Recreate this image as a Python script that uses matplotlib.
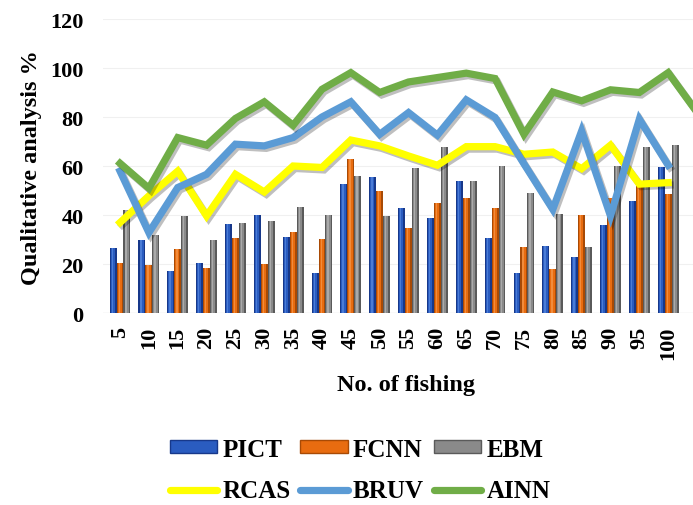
import numpy as np
import matplotlib
matplotlib.use("Agg")
import matplotlib.pyplot as plt
import matplotlib.patheffects as pe
from matplotlib.patches import Patch
from matplotlib.lines import Line2D

plt.rcParams['font.family'] = ['Liberation Serif', 'DejaVu Serif']
plt.rcParams['font.weight'] = 'bold'

# number of fishing runs
fishing = [5, 10, 15, 20, 25, 30, 35, 40, 45, 50, 55, 60, 65, 70, 75, 80, 85, 90, 95, 100]

# bar series
pict = [26.8, 29.8, 17.1, 20.4, 36.3, 40.0, 31.0, 16.3, 52.7, 55.5,
        42.9, 38.8, 53.9, 30.6, 16.3, 27.3, 22.9, 35.9, 46.0, 59.7]
fcnn = [20.4, 19.6, 26.1, 18.4, 30.6, 20.0, 33.0, 30.2, 62.9, 49.8,
        34.7, 44.9, 46.9, 42.9, 26.9, 18.0, 40.0, 46.9, 52.0, 48.6]
ebm = [42.0, 31.8, 39.6, 29.8, 36.7, 37.6, 43.3, 40.0, 56.0, 39.6,
       59.2, 68.0, 53.9, 60.0, 49.0, 40.4, 26.9, 60.0, 68.0, 68.8]

# line series
rcas = [37.0, 47.9, 58.0, 39.7, 56.7, 49.5, 60.1, 59.5, 70.7, 68.3,
        64.2, 60.4, 68.0, 68.0, 64.9, 65.8, 59.0, 68.6, 52.7, 53.3]
bruv = [58.0, 32.9, 51.3, 56.7, 69.0, 68.3, 71.7, 80.1, 86.3, 73.0,
        81.9, 72.7, 87.1, 79.9, 61.0, 42.4, 74.4, 39.7, 79.2, 60.4]
# AINN runs one step past the last label and is cut off by the frame
ainn = [61.2, 51.0, 71.7, 68.6, 79.5, 86.3, 76.7, 91.4, 98.2, 90.1,
        94.4, 96.2, 98.0, 95.8, 73.0, 90.3, 86.7, 91.2, 90.1, 98.2, 82.0]

fig = plt.figure(figsize=(6.93, 5.06), dpi=100)
ax = fig.add_axes([103 / 693, 0.379, 590 / 693, 0.581])

x = np.arange(len(fishing))
w = 0.24

def shaded_bars(pos, vals, base, dark, light):
    # cylinder look: dark body, lighter core, thin highlight
    ax.bar(pos, vals, w, color=dark, zorder=2)
    ax.bar(pos - w * 0.05, vals, w * 0.6, color=base, zorder=3)
    ax.bar(pos - w * 0.12, vals, w * 0.18, color=light, alpha=0.7, zorder=4)

shaded_bars(x - w, pict, '#2a5cc0', '#17388a', '#5a8ae0')
shaded_bars(x, fcnn, '#e86c10', '#a84a05', '#f59a50')
shaded_bars(x + w, ebm, '#8a8a8a', '#5a5a5a', '#b8b8b8')

shadow = [pe.SimpleLineShadow(offset=(1.5, -1.8), alpha=0.25, shadow_color='black'), pe.Normal()]
lw = 5.2
ax.plot(x, rcas, color='#ffff00', lw=lw, zorder=6, path_effects=shadow, solid_joinstyle='miter')
ax.plot(x, bruv, color='#5b9bd5', lw=lw, zorder=7, path_effects=shadow, solid_joinstyle='miter')
ax.plot(np.arange(len(ainn)), ainn, color='#70ad47', lw=lw, zorder=8, path_effects=shadow,
        solid_joinstyle='miter')

ax.set_xlim(-0.59, 19.86)
ax.set_ylim(0, 120)
ax.set_yticks(range(0, 121, 20))
ax.set_xticks(x)
ax.set_xticklabels([str(f) for f in fishing], rotation=90, fontsize=16, fontweight='bold')
ax.tick_params(axis='y', labelsize=16, length=0, pad=14)
ax.tick_params(axis='x', length=0, pad=9)
ax.yaxis.grid(True, color='#f0f0f0', lw=0.8, zorder=0)
ax.set_axisbelow(True)
for s in ax.spines.values():
    s.set_visible(False)
ax.axhline(0, color='#e6e6e6', lw=1.0, zorder=1)

ax.set_ylabel('Qualitative analysis %', fontsize=17.5, fontweight='bold', labelpad=6)
ax.set_xlabel('No. of fishing', fontsize=17.5, fontweight='bold')
ax.xaxis.label.set_verticalalignment('center')
ax.xaxis.set_label_coords((406 - 103) / 590, (314 - 385) / 294)

handles = [
    Patch(facecolor='#2a5cc0', edgecolor='#17388a', label='PICT'),
    Line2D([], [], color='#ffff00', lw=lw, solid_capstyle='round', label='RCAS'),
    Patch(facecolor='#e86c10', edgecolor='#a84a05', label='FCNN'),
    Line2D([], [], color='#5b9bd5', lw=lw, solid_capstyle='round', label='BRUV'),
    Patch(facecolor='#8a8a8a', edgecolor='#5a5a5a', label='EBM'),
    Line2D([], [], color='#70ad47', lw=lw, solid_capstyle='round', label='AINN'),
]
fig.legend(handles=handles, ncol=3, loc='center', bbox_to_anchor=(360 / 693, 1 - 471 / 506),
           frameon=False, handlelength=1.9, handleheight=0.45, handletextpad=0.2,
           columnspacing=0.4, labelspacing=0.75, borderpad=0.2,
           prop={'weight': 'bold', 'size': 18})

fig.savefig('out.png', dpi=100)
